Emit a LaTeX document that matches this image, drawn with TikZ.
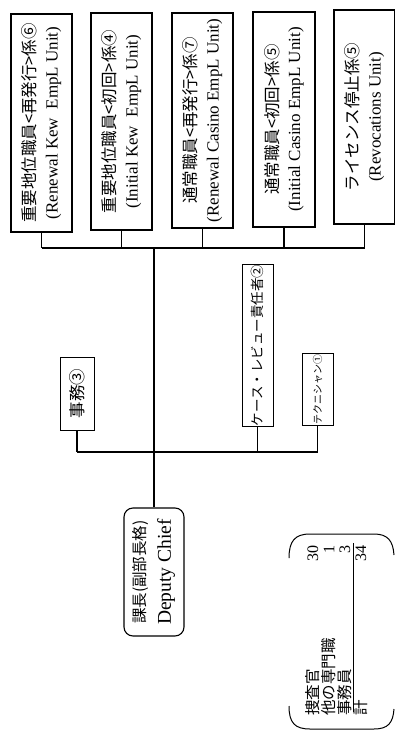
\documentclass[tikz,border=0pt]{standalone}
\usepackage{fontspec}
\setmainfont{Liberation Serif}
\newfontfamily\jp{Noto Sans CJK JP}
\newcommand{\jpline}[1]{{\jp\fontsize{16.5}{22}\selectfont #1}}
\newcommand{\enline}[1]{{\fontsize{17}{22}\selectfont #1}}
\begin{document}
\begin{tikzpicture}[x=1pt,y=-1pt,
  unitbox/.style={draw, line width=1.1pt, rotate=90, minimum width=#1, minimum height=61pt,
    inner sep=0pt, align=center, font=\fontsize{17}{22}\selectfont},
  smallbox/.style={draw, line width=1pt, rotate=90, minimum width=#1, inner sep=0pt, align=center},
  conn/.style={line width=1.2pt},
  sumtxt/.style={rotate=90, inner sep=0pt, font=\jp\fontsize{15.5}{16}\selectfont},
  sumnum/.style={rotate=90, inner sep=0pt, font=\fontsize{16}{16}\selectfont}
]
\useasboundingbox (0,0) rectangle (395,733);

% top units
\node[unitbox=218pt] (b1) at (41.5,123) {\jpline{重要地位職員<再発行>係⑥}\\\enline{(Renewal Kew\ \ EmpL Unit)}};
\node[unitbox=217pt] (b2) at (121.5,121.5) {\jpline{重要地位職員<初回>係④}\\\enline{(Initial Kew\ \ EmpL Unit)}};
\node[unitbox=215pt] (b3) at (202.5,120.5) {\jpline{通常職員<再発行>係⑦}\\\enline{(Renewal Casino EmpL Unit)}};
\node[unitbox=215pt, minimum height=62pt] (b4) at (284,119.5) {\jpline{通常職員<初回>係⑤}\\\enline{(Initial Casino EmpL Unit)}};
\node[unitbox=214pt] (b5) at (364.5,117) {\jpline{ライセンス停止係⑤}\\\enline{(Revocations Unit)}};

\coordinate (bus) at (0,248);
\foreach \b in {b1,b2,b3,b4,b5} \draw[conn] (\b.west) -- (\b.west |- bus);
\draw[conn] (b1.west |- bus) -- (b5.west |- bus);

% second level
\node[smallbox=73pt, minimum height=34pt, font=\jp\fontsize{16.5}{18}\selectfont] (s1) at (77,393.5) {事務③};
\node[smallbox=161pt, minimum height=31pt, font=\jp\fontsize{13.5}{14}\selectfont] (s2) at (257.5,345.5) {ケース・レビュー責任者②};
\node[smallbox=72pt, minimum height=31pt, font=\jp\fontsize{10}{10}\selectfont] (s3) at (317.5,389) {テクニシャン①};

\coordinate (bus2) at (0,452);
\foreach \b in {s1,s2,s3} \draw[conn] (\b.west) -- (\b.west |- bus2);
\draw[conn] (s1.west |- bus2) -- (s3.west |- bus2);

% chief
\node[draw, line width=1.1pt, rounded corners=9pt, rotate=90, minimum width=128pt, minimum height=60pt,
  inner sep=0pt, align=center, font=\fontsize{19}{25}\selectfont] (chief) at (154,572)
  {{\jp\fontsize{15.5}{25}\selectfont 課長(副部長格)}\\{\fontsize{19.5}{25}\selectfont Deputy Chief}};
\draw[conn, line width=1.5pt] (chief.east) -- (chief.east |- bus);

% summary
\draw[line width=1pt] (289,558) .. controls (289,541) and (295,534) .. (310,534) -- (374,534)
  .. controls (388,534) and (393,541) .. (394,555);
\draw[line width=1pt] (289,706) .. controls (289,723) and (295,729) .. (310,729) -- (374,729)
  .. controls (388,729) and (393,723) .. (394,709);
\node[sumtxt, anchor=west] (l1) at (313,716) {捜査官};
\node[sumtxt, anchor=west] (l2) at (329,716) {他の専門職};
\node[sumtxt, anchor=west] (l3) at (345,716) {事務員};
\node[sumtxt, anchor=west] (l4) at (361,716) {計};
\node[sumnum, anchor=east] (n1) at (313,545) {30};
\node[sumnum, anchor=east] (n2) at (329,545) {1};
\node[sumnum, anchor=east] (n3) at (345,545) {3};
\node[sumnum, anchor=east] (n4) at (361,545) {34};
\draw[line width=0.9pt] (353,543) -- (353,712);
\end{tikzpicture}
\end{document}
